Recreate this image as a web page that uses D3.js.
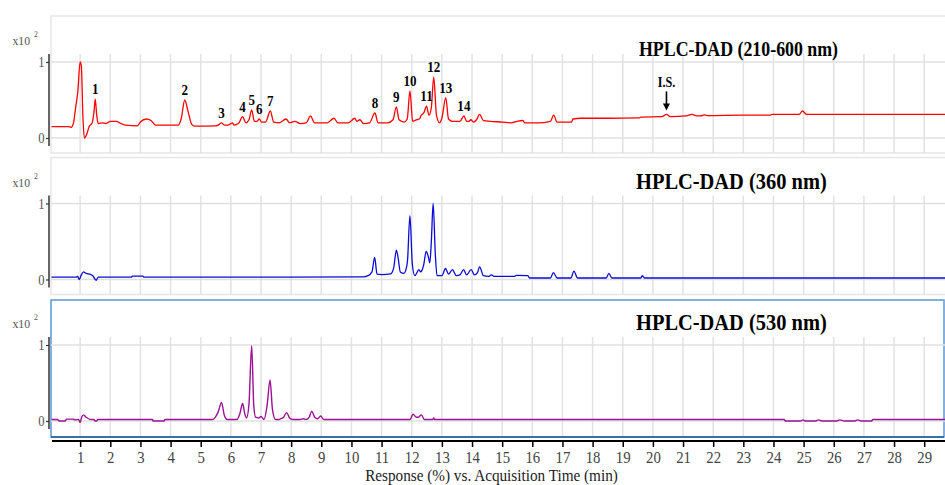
<!DOCTYPE html>
<html>
<head>
<meta charset="utf-8">
<script src="https://cdn.jsdelivr.net/npm/d3@7"></script>
<style>
  body { margin: 0; background: #fff; }
  svg { display: block; }
</style>
</head>
<body>
<svg id="chart" width="945" height="485"></svg>
<script>
// Chromatograms: [retention time (min), response (x10^2 %)]
const traceTotal = [
  [0.05,0.15],[0.6,0.15],[0.7,0.14],[0.78,0.2],[0.85,0.4],[0.92,0.6],[1.0,1.0],[1.04,0.95],[1.09,0.3],[1.14,0.0],
  [1.22,0.05],[1.3,0.15],[1.4,0.2],[1.46,0.35],[1.5,0.51],[1.55,0.3],[1.6,0.19],[1.75,0.2],[1.85,0.19],[2.0,0.22],
  [2.2,0.22],[2.35,0.19],[2.5,0.17],[2.9,0.16],[3.0,0.21],[3.2,0.25],[3.35,0.23],[3.5,0.17],[4.25,0.17],[4.35,0.25],
  [4.47,0.5],[4.58,0.35],[4.7,0.18],[4.8,0.155],[5.5,0.16],[5.62,0.18],[5.69,0.2],[5.78,0.17],[5.9,0.17],[6.0,0.19],
  [6.06,0.2],[6.1,0.17],[6.25,0.19],[6.39,0.28],[6.5,0.2],[6.6,0.24],[6.69,0.37],[6.78,0.22],[6.87,0.22],[6.94,0.25],
  [7.02,0.21],[7.15,0.21],[7.31,0.355],[7.42,0.21],[7.6,0.2],[7.83,0.25],[7.95,0.2],[8.12,0.22],[8.3,0.19],[8.5,0.2],
  [8.64,0.29],[8.78,0.2],[9.2,0.2],[9.42,0.26],[9.55,0.2],[9.9,0.2],[10.11,0.26],[10.18,0.22],[10.28,0.24],[10.4,0.19],
  [10.6,0.2],[10.78,0.33],[10.88,0.2],[11.2,0.2],[11.38,0.24],[11.49,0.41],[11.58,0.24],[11.75,0.21],[11.85,0.25],[11.94,0.62],
  [12.03,0.22],[12.15,0.24],[12.25,0.25],[12.32,0.3],[12.4,0.33],[12.49,0.42],[12.57,0.3],[12.65,0.4],[12.73,0.8],[12.82,0.3],
  [12.92,0.2],[13.0,0.26],[13.13,0.53],[13.22,0.25],[13.35,0.22],[13.6,0.22],[13.73,0.29],[13.82,0.22],[13.9,0.22],[13.96,0.24],
  [14.05,0.21],[14.15,0.24],[14.25,0.31],[14.38,0.23],[14.6,0.22],[15.0,0.21],[15.3,0.2],[15.5,0.22],[15.68,0.23],[15.75,0.2],
  [16.2,0.2],[16.6,0.22],[16.71,0.3],[16.82,0.21],[17.3,0.21],[17.35,0.25],[17.6,0.26],[18.5,0.26],[19.55,0.265],[19.6,0.275],
  [20.3,0.28],[20.45,0.31],[20.58,0.28],[21.1,0.29],[21.3,0.31],[21.45,0.29],[21.6,0.29],[21.7,0.305],[21.8,0.295],[23.0,0.3],
  [23.9,0.3],[23.95,0.31],[24.85,0.31],[24.96,0.355],[25.1,0.31],[29.69,0.31]
];
const trace360 = [
  [0.05,0.03],[0.85,0.03],[0.92,0.04],[0.97,0.0],[1.04,0.06],[1.11,0.1],[1.2,0.08],[1.32,0.07],[1.42,0.05],[1.53,-0.01],
  [1.6,0.03],[2.7,0.03],[2.73,0.045],[3.08,0.045],[3.12,0.03],[10.4,0.035],[10.55,0.05],[10.68,0.1],[10.77,0.29],[10.85,0.07],
  [11.0,0.065],[11.3,0.075],[11.4,0.15],[11.49,0.385],[11.55,0.28],[11.62,0.1],[11.74,0.08],[11.8,0.12],[11.86,0.25],[11.94,0.84],
  [12.02,0.2],[12.1,0.05],[12.24,0.13],[12.29,0.1],[12.34,0.12],[12.4,0.2],[12.48,0.37],[12.55,0.3],[12.6,0.22],[12.65,0.5],
  [12.71,1.0],[12.78,0.35],[12.84,0.05],[13.0,0.05],[13.12,0.145],[13.22,0.07],[13.35,0.13],[13.48,0.05],[13.6,0.06],[13.72,0.13],
  [13.82,0.06],[13.97,0.13],[14.08,0.06],[14.18,0.09],[14.25,0.165],[14.38,0.05],[14.55,0.04],[14.64,0.06],[14.75,0.04],[15.4,0.04],
  [15.47,0.055],[15.85,0.05],[15.91,0.02],[16.6,0.02],[16.7,0.09],[16.82,0.02],[17.28,0.02],[17.38,0.11],[17.5,0.02],[18.45,0.02],
  [18.54,0.08],[18.64,0.02],[19.6,0.02],[19.65,0.05],[19.72,0.02],[29.69,0.02]
];
const trace530 = [
  [0.05,0.02],[0.25,0.02],[0.3,0.0],[0.5,0.0],[0.55,0.025],[0.75,0.025],[0.85,0.015],[0.95,0.02],[1.0,-0.02],[1.05,0.05],
  [1.11,0.08],[1.2,0.05],[1.35,0.02],[1.45,0.02],[1.5,0.0],[1.55,0.0],[1.58,0.02],[3.4,0.02],[3.42,0.0],[3.79,0.0],
  [3.81,0.02],[5.4,0.02],[5.5,0.06],[5.58,0.12],[5.69,0.245],[5.78,0.08],[5.88,0.02],[6.2,0.02],[6.3,0.1],[6.39,0.23],
  [6.46,0.1],[6.52,0.04],[6.6,0.22],[6.69,0.99],[6.76,0.2],[6.82,0.05],[6.92,0.04],[7.0,0.06],[7.1,0.02],[7.2,0.2],
  [7.3,0.54],[7.38,0.15],[7.48,0.02],[7.6,0.02],[7.66,0.03],[7.75,0.05],[7.85,0.11],[7.95,0.04],[8.05,0.02],[8.3,0.02],
  [8.4,0.03],[8.5,0.02],[8.6,0.05],[8.68,0.13],[8.78,0.05],[8.88,0.03],[8.98,0.065],[9.08,0.02],[11.95,0.02],[12.04,0.09],
  [12.15,0.05],[12.22,0.05],[12.32,0.08],[12.42,0.02],[12.7,0.02],[12.73,0.04],[12.76,0.02],[24.35,0.02],[24.4,0.0],[24.9,0.0],
  [24.97,0.015],[25.05,0.0],[25.4,0.0],[25.5,0.015],[25.6,0.0],[26.1,0.0],[26.2,0.015],[26.35,0.0],[26.7,0.0],[26.8,0.015],
  [26.9,0.0],[27.25,0.0],[27.3,0.02],[29.69,0.02]
];

// Numbered compounds and internal standard on the 210-600 nm trace
const peakNames = ["1","2","3","4","5","6","7","8","9","10","11","12","13","14"];
const peakTimes = [1.5, 4.47, 5.69, 6.39, 6.69, 6.94, 7.31, 10.78, 11.49, 11.94, 12.49, 12.73, 13.13, 13.73];
const standardName = "I.S.";
const standardTime = 20.45;

const channelTitles = ["HPLC-DAD (210-600 nm)", "HPLC-DAD (360 nm)", "HPLC-DAD (530 nm)"];
const timeTicks = [1,2,3,4,5,6,7,8,9,10,11,12,13,14,15,16,17,18,19,20,21,22,23,24,25,26,27,28,29];
const responseTicks = [0, 1];
const timeDomain = [0, 29.69];
const axisTitle = "Response (%) vs. Acquisition Time (min)";

// ---- layout ----
const SERIF = "'Liberation Serif','Times New Roman',Times,serif";
const SX = 0.87;                 // narrow glyph set used throughout
const svg = d3.select("#chart");
const x = d3.scaleLinear().domain(timeDomain).range([50, 945]);
const baselines = [138, 279.5, 421];
const unit = 76;
const channels = [
  { data: traceTotal, color: "#ff0000", width: 1.3, titleSize: 20.5, titleX: 639 },
  { data: trace360,  color: "#0a0ad8", width: 1.3, titleSize: 23.5, titleX: 636 },
  { data: trace530,  color: "#9c0f96", width: 1.4, titleSize: 23.5, titleX: 636 }
];

function txt(g, px, py, s, size, opt = {}) {
  return g.append("text")
    .attr("transform", `translate(${px},${py}) scale(${opt.sx || SX},1)`)
    .attr("font-family", SERIF)
    .attr("font-size", size)
    .attr("font-weight", opt.weight || "normal")
    .attr("text-anchor", opt.anchor || "start")
    .attr("fill", opt.fill || "#000")
    .text(s);
}

channels.forEach((ch, i) => {
  const y0 = baselines[i];
  const y = d3.scaleLinear().domain([0, 1]).range([y0, y0 - unit]);
  const g = svg.append("g");

  // panel frame
  if (i < 2) {
    g.append("rect").attr("x", 51).attr("y", y0 - 122).attr("width", 910).attr("height", 137)
      .attr("fill", "none").attr("stroke", "#e6e6e6").attr("stroke-width", 1.5);
  } else {
    g.append("rect").attr("x", 51).attr("y", y0 - 121).attr("width", 893).attr("height", 137)
      .attr("fill", "none").attr("stroke", "#5b97d6").attr("stroke-width", 1.5);
    g.append("line").attr("x1", 51).attr("x2", 944).attr("y1", y0 + 16).attr("y2", y0 + 16)
      .attr("stroke", "#1f5b9e").attr("stroke-width", 1.5);
  }

  // grid
  g.append("g").selectAll("line").data(timeTicks).join("line")
    .attr("x1", d => x(d)).attr("x2", d => x(d))
    .attr("y1", y(1.105)).attr("y2", y0 + 15)
    .attr("stroke", "#e2e2e2").attr("stroke-width", 1.5);
  g.append("g").selectAll("line").data(responseTicks).join("line")
    .attr("x1", 51).attr("x2", 945)
    .attr("y1", d => y(d)).attr("y2", d => y(d))
    .attr("stroke", "#e0e0e0").attr("stroke-width", 1.5);

  // response axis
  const ya = g.append("g").attr("transform", "translate(49,0)")
    .call(d3.axisLeft(y).tickValues(responseTicks).tickFormat(d3.format("d")).tickSize(3).tickPadding(2));
  ya.select(".domain").remove();
  ya.selectAll(".tick line").attr("stroke", "#333").attr("stroke-width", 1.2);
  ya.selectAll(".tick text")
    .attr("font-family", SERIF).attr("font-size", 14.5).attr("fill", "#555")
    .attr("transform", `scale(${SX},1)`);
  g.append("line").attr("x1", 49).attr("x2", 49).attr("y1", y(1.105)).attr("y2", y(-0.105))
    .attr("stroke", "#333").attr("stroke-width", 1.5);

  // scale factor label
  txt(g, 12.5, y0 - 93, "x10", 13.5, { fill: "#555" });
  txt(g, 34, y0 - 101, "2", 9, { fill: "#555" });

  // trace
  const line = d3.line().x(d => x(d[0])).y(d => y(d[1])).curve(d3.curveMonotoneX);
  g.append("path").datum(ch.data).attr("d", line)
    .attr("fill", "none").attr("stroke", ch.color).attr("stroke-width", ch.width)
    .attr("stroke-linejoin", "round");

  // channel title
  txt(g, ch.titleX, i === 0 ? 56 : y0 - 91, channelTitles[i], ch.titleSize, { weight: "bold" });

  if (i === 0) {
    const valueAt = t => ch.data.find(p => p[0] === t)[1];
    peakTimes.forEach((t, k) => {
      txt(g, x(t), y(valueAt(t)) - 5, peakNames[k], 14.5, { weight: "bold", anchor: "middle", sx: 0.9 });
    });
    const sy = y(valueAt(standardTime));
    const sxp = x(standardTime);
    txt(g, sxp, sy - 27, standardName, 14, { weight: "bold", anchor: "middle" });
    g.append("line").attr("x1", sxp).attr("x2", sxp).attr("y1", sy - 23).attr("y2", sy - 10)
      .attr("stroke", "#000").attr("stroke-width", 1.6);
    g.append("path")
      .attr("d", `M${sxp - 3.5},${sy - 11} L${sxp + 3.5},${sy - 11} L${sxp},${sy - 4} Z`)
      .attr("fill", "#000");
  }
});

// time axis
const xa = svg.append("g").attr("transform", "translate(0,441)")
  .call(d3.axisBottom(x).tickValues(timeTicks).tickFormat(d3.format("d")).tickSize(6).tickPadding(4).tickSizeOuter(0));
xa.select(".domain").attr("d", "M52,0H945").attr("stroke", "#000").attr("stroke-width", 2);
xa.selectAll(".tick line").attr("stroke", "#000").attr("stroke-width", 1.5);
xa.selectAll(".tick text")
  .attr("font-family", SERIF).attr("font-size", 17).attr("fill", "#444")
  .attr("transform", `scale(${SX},1)`);

txt(svg, 491.5, 480.5, axisTitle, 17.5, { anchor: "middle", fill: "#222" });
</script>
</body>
</html>
